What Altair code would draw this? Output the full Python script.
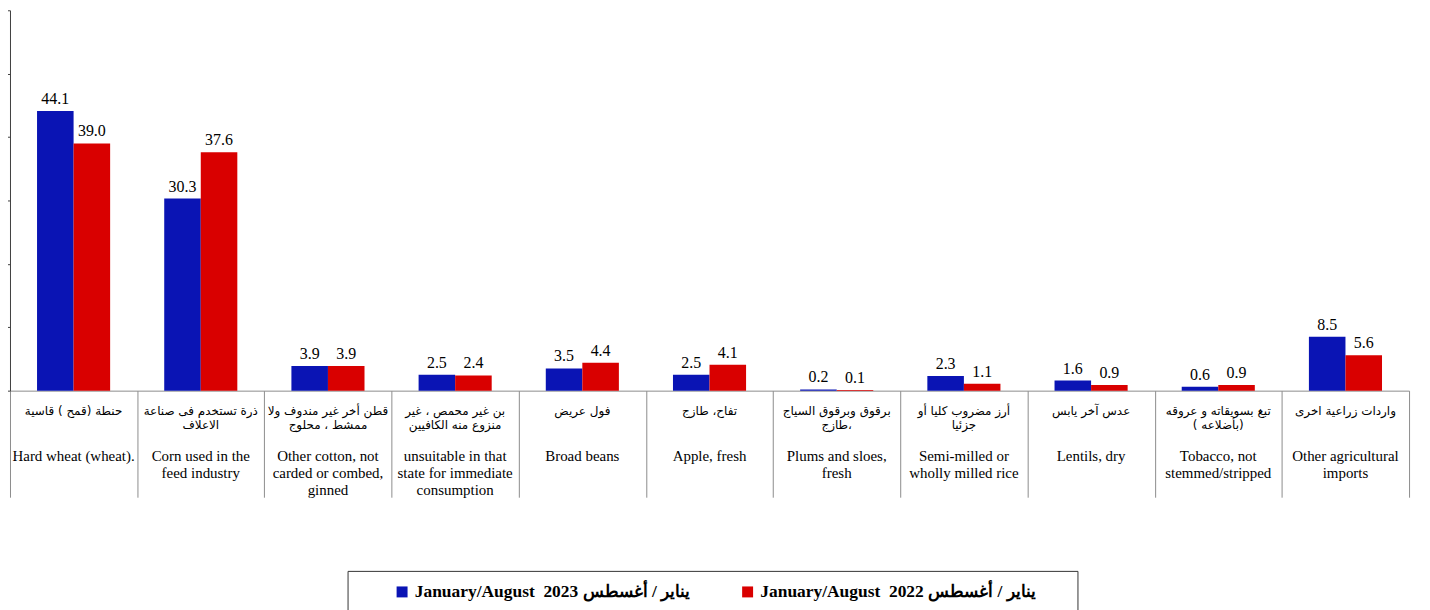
import altair as alt
import pandas as pd

# ---- data ----
cats_en = [
    "Hard wheat (wheat).",
    "Corn used in the|feed industry",
    "Other cotton, not|carded or combed,|ginned",
    "unsuitable in that|state for immediate|consumption",
    "Broad beans",
    "Apple, fresh",
    "Plums and sloes,|fresh",
    "Semi-milled or|wholly milled rice",
    "Lentils, dry",
    "Tobacco, not|stemmed/stripped",
    "Other agricultural|imports",
]
cats_ar = [
    "حنطة (قمح ) قاسية",
    "ذرة تستخدم فى صناعة|الاعلاف",
    "قطن أخر غير مندوف ولا|ممشط ، محلوج",
    "بن غير محمص ، غير|منزوع منه الكافيين",
    "فول عريض",
    "تفاح، طازج",
    "برقوق وبرقوق السياج|طازج،",
    "أرز مضروب كليا أو|جزئيا",
    "عدس آخر يابس",
    "تبغ بسويقاته و عروقه|( بأضلاعه)",
    "واردات زراعية اخرى",
]
vals_2023 = [44.1, 30.3, 3.9, 2.5, 3.5, 2.5, 0.2, 2.3, 1.6, 0.6, 8.5]
vals_2022 = [39.0, 37.6, 3.9, 2.4, 4.4, 4.1, 0.1, 1.1, 0.9, 0.9, 5.6]
series = ["January/August\u00a0 2023 يناير / أغسطس", "January/August\u00a0 2022 يناير / أغسطس"]
colors = ["#0A14B4", "#D90000"]
y_ticks = [0, 10, 20, 30, 40, 50, 60]

rows = []
for i, c in enumerate(cats_en):
    rows.append({"cat": c, "series": series[0], "value": vals_2023[i]})
    rows.append({"cat": c, "series": series[1], "value": vals_2022[i]})
df = pd.DataFrame(rows)
lab = pd.DataFrame({"cat": cats_en, "ar": cats_ar})

W, H = 1405, 382

x_enc = alt.X("cat:N", sort=cats_en,
              scale=alt.Scale(paddingInner=0, paddingOuter=0, round=False),
              axis=alt.Axis(title=None, labels=False, tickBand="extent", tickSize=107,
                            tickColor="#8c8c8c", domainColor="#8c8c8c"))
xo_enc = alt.XOffset("series:N", sort=series,
                     scale=alt.Scale(paddingOuter=0.74, paddingInner=0))
y_enc = alt.Y("value:Q", scale=alt.Scale(domain=[0, 60], nice=False),
              axis=alt.Axis(title=None, labels=False, grid=False, values=y_ticks,
                            tickSize=5, tickColor="#404040", domainColor="#404040"))

pad_r = "\u2800" * 2
bars = alt.Chart(df).mark_bar(strokeWidth=0).encode(
    x=x_enc, xOffset=xo_enc, y=y_enc,
    color=alt.Color("series:N", sort=series,
                    scale=alt.Scale(domain=series, range=colors),
                    legend=alt.Legend(
                        orient="none", legendX=339, legendY=563, direction="horizontal",
                        title="\u00a0", titleOrient="left", titleFontSize=1, titlePadding=34,
                        strokeColor="#333333", padding=12,
                        symbolType="square", symbolSize=121, symbolStrokeWidth=0,
                        labelFont="Liberation Serif", labelFontSize=17.5,
                        labelFontWeight="bold", labelColor="black", labelLimit=0,
                        columnPadding=45, labelOffset=4,
                        labelExpr="indexof(datum.label,'2022')>=0 ? datum.label + '" + pad_r + "' : datum.label",
                    )),
)

values = alt.Chart(df).mark_text(font="Liberation Serif", fontSize=16, color="black",
                                 baseline="alphabetic", dy=-7).encode(
    x=alt.X("cat:N", sort=cats_en), xOffset=xo_enc, y=alt.Y("value:Q"),
    text=alt.Text("value:Q", format=".1f"),
)

ar_text = alt.Chart(lab).transform_calculate(
    lines="split(datum.ar, '|')"
).mark_text(font="DejaVu Sans", fontSize=12, color="black", baseline="top",
            lineHeight=15, align="center").encode(
    x=alt.X("cat:N", sort=cats_en), y=alt.value(H + 15), text="lines:N",
)

en_lab = pd.DataFrame({"cat": cats_en})
en_text = alt.Chart(en_lab).transform_calculate(
    lines="split(datum.cat, '|')"
).mark_text(font="Liberation Serif", fontSize=15, color="black", baseline="top",
            lineHeight=17, align="center").encode(
    x=alt.X("cat:N", sort=cats_en), y=alt.value(H + 59), text="lines:N",
)

chart = alt.layer(bars, values, ar_text, en_text).properties(
    width=W, height=H,
    autosize=alt.AutoSizeParams(type="none"),
    padding={"left": 2, "top": 1, "right": 13, "bottom": 220},
).configure_view(stroke=None)

chart.save("out.html", embed_options={"renderer": "svg", "actions": False})
